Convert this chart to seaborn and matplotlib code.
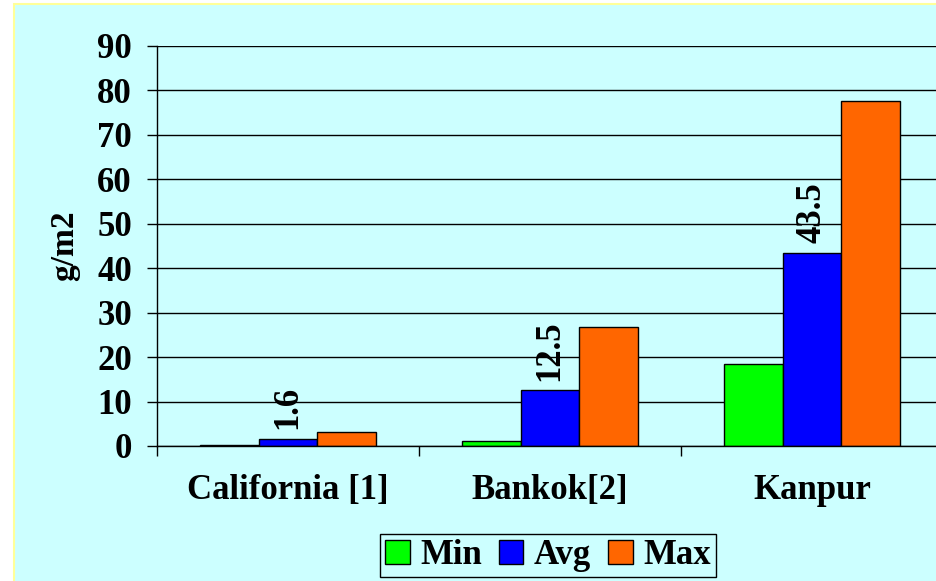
import matplotlib
matplotlib.use("Agg")
import matplotlib.pyplot as plt
import seaborn as sns
import pandas as pd
from matplotlib.patches import Rectangle

sites = ['California [1]', 'Bankok[2]', 'Kanpur']
stats = ['Min', 'Avg', 'Max']
min_vals = [0.3, 1.2, 18.4]
avg_vals = [1.6, 12.5, 43.5]
max_vals = [3.2, 26.8, 77.6]
avg_labels = ['1.6', '12.5', '43.5']
colors = ['#00FF00', '#0000FF', '#FF6600']

sns.set_style("white")
plt.rcParams['font.family'] = ['Liberation Serif', 'DejaVu Serif']
plt.rcParams['font.weight'] = 'bold'
plt.rcParams['text.color'] = 'black'
plt.rcParams['xtick.color'] = 'black'
plt.rcParams['ytick.color'] = 'black'
plt.rcParams['axes.labelcolor'] = 'black'

FS = 25

df = pd.DataFrame({
    'site': sites * 3,
    'stat': ['Min'] * 3 + ['Avg'] * 3 + ['Max'] * 3,
    'value': min_vals + avg_vals + max_vals,
})

bg = '#CCFFFF'
fig = plt.figure(figsize=(9.36, 5.81), dpi=100, facecolor='white')
# slide-style background panel with a pale yellow edge
fig.patches.append(Rectangle((14 / 936, -0.01), 1.0, 1 - 4 / 581 + 0.01,
                             transform=fig.transFigure, facecolor=bg,
                             edgecolor='#FFFF99', linewidth=1.5, zorder=-10))

ax = fig.add_axes([157 / 936, 135 / 581, 786 / 936, 400 / 581])
ax.set_facecolor('none')

sns.barplot(data=df, x='site', y='value', hue='stat', hue_order=stats,
            palette=colors, saturation=1, width=0.672, edgecolor='black',
            linewidth=1, ax=ax, legend=True)

ax.set_ylim(0, 90)
ax.set_xlim(-0.5, 2.5)
ax.set_yticks(range(0, 91, 10))
ax.yaxis.grid(True, color='black', linewidth=1)
ax.set_axisbelow(True)
for s in ['top', 'right']:
    ax.spines[s].set_visible(False)
for s in ['left', 'bottom']:
    ax.spines[s].set_color('black')
    ax.spines[s].set_linewidth(1)

ax.tick_params(axis='y', direction='out', length=7, width=1,
               pad=11, labelsize=FS, left=True)
ax.set_xticks([0, 1, 2])
ax.set_xticks([-0.5, 0.5, 1.5, 2.5], minor=True)
ax.tick_params(axis='x', which='major', length=0, pad=20, labelsize=FS)
ax.tick_params(axis='x', which='minor', length=7, width=1,
               direction='out', bottom=True)
for t in ax.get_xticklabels() + ax.get_yticklabels():
    t.set_fontweight('bold')

ax.set_xlabel('')
ax.set_ylabel('g/m2', fontsize=24, fontweight='bold')
ax.yaxis.set_label_coords(-0.098, 0.5)

avg_bars = ax.containers[1]
ax.bar_label(avg_bars, labels=avg_labels, rotation=90, padding=7,
             fontsize=FS, fontweight='bold')

handles, labels = ax.get_legend_handles_labels()
ax.legend_.remove()
leg = fig.legend(handles, labels, loc='center', bbox_to_anchor=(548 / 936, 1 - 555.5 / 581),
                 ncol=3, frameon=True, fancybox=False, facecolor=bg, edgecolor='black',
                 framealpha=1, prop={'size': FS, 'weight': 'bold'},
                 handlelength=0.7, handleheight=0.7, handletextpad=0.3,
                 columnspacing=0.5, borderpad=0.15, borderaxespad=0)
leg.get_frame().set_linewidth(1)

fig.savefig('out.png', dpi=100, facecolor=fig.get_facecolor())
